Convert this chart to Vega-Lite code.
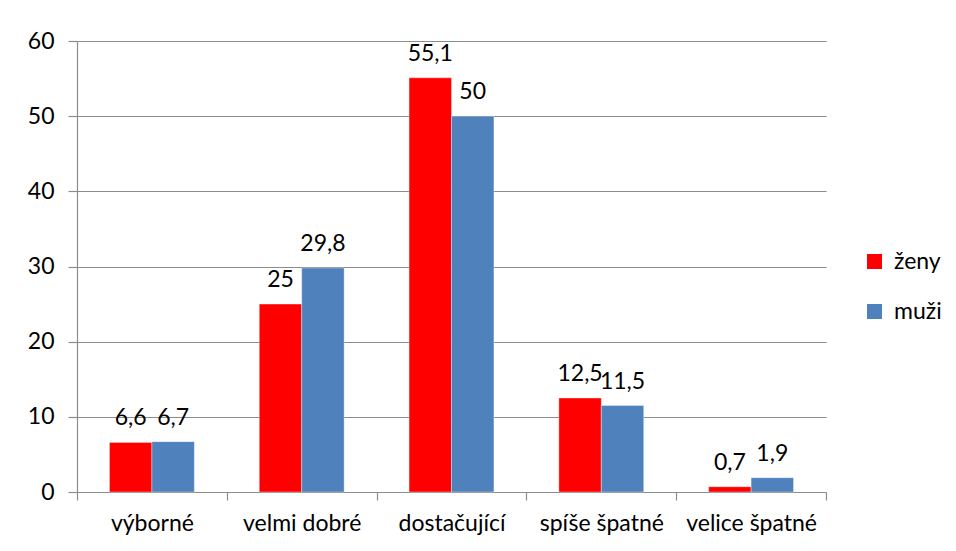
{
  "$schema": "https://vega.github.io/schema/vega-lite/v6.json",
  "autosize": "none",
  "width": 749,
  "height": 451,
  "padding": {"left": 77, "top": 41, "right": 130, "bottom": 59},
  "background": "white",
  "data": {
    "values": [
      {"kategorie": "výborné", "pohlavi": "ženy", "hodnota": 6.6, "label": "6,6"},
      {"kategorie": "výborné", "pohlavi": "muži", "hodnota": 6.7, "label": "6,7"},
      {"kategorie": "velmi dobré", "pohlavi": "ženy", "hodnota": 25, "label": "25"},
      {"kategorie": "velmi dobré", "pohlavi": "muži", "hodnota": 29.8, "label": "29,8"},
      {"kategorie": "dostačující", "pohlavi": "ženy", "hodnota": 55.1, "label": "55,1"},
      {"kategorie": "dostačující", "pohlavi": "muži", "hodnota": 50, "label": "50"},
      {"kategorie": "spíše špatné", "pohlavi": "ženy", "hodnota": 12.5, "label": "12,5"},
      {"kategorie": "spíše špatné", "pohlavi": "muži", "hodnota": 11.5, "label": "11,5"},
      {"kategorie": "velice špatné", "pohlavi": "ženy", "hodnota": 0.7, "label": "0,7"},
      {"kategorie": "velice špatné", "pohlavi": "muži", "hodnota": 1.9, "label": "1,9"}
    ]
  },
  "encoding": {
    "x": {
      "field": "kategorie",
      "type": "nominal",
      "sort": ["výborné", "velmi dobré", "dostačující", "spíše špatné", "velice špatné"],
      "scale": {"paddingInner": 0, "paddingOuter": 0},
      "axis": {
        "title": null,
        "labelAngle": 0,
        "labelFontSize": 23,
        "labelPadding": 12,
        "labelColor": "#000000",
        "tickSize": 8,
        "tickBand": "extent",
        "domainColor": "#8c8c8c",
        "tickColor": "#8c8c8c",
        "grid": false
      }
    },
    "xOffset": {
      "field": "pohlavi",
      "type": "nominal",
      "sort": ["ženy", "muži"],
      "scale": {"paddingInner": 0, "paddingOuter": 0.765}
    },
    "y": {
      "field": "hodnota",
      "type": "quantitative",
      "scale": {"domain": [0, 60], "nice": false},
      "axis": {
        "title": null,
        "values": [0, 10, 20, 30, 40, 50, 60],
        "labelFontSize": 23,
        "labelColor": "#000000",
        "labelPadding": 14,
        "tickSize": 9,
        "domainColor": "#8c8c8c",
        "tickColor": "#8c8c8c",
        "gridColor": "#8c8c8c",
        "grid": true
      }
    }
  },
  "layer": [
    {
      "mark": {"type": "bar", "stroke": "#ffffff", "strokeWidth": 0.6, "strokeOpacity": 0.6},
      "encoding": {
        "color": {
          "field": "pohlavi",
          "type": "nominal",
          "sort": ["ženy", "muži"],
          "scale": {"domain": ["ženy", "muži"], "range": ["#ff0000", "#4f81bd"]},
          "legend": {
            "title": null,
            "orient": "none",
            "legendX": 786,
            "legendY": 209,
            "symbolType": "square",
            "symbolSize": 225,
            "symbolStrokeWidth": 0,
            "labelFontSize": 23,
            "labelColor": "#000000",
            "labelOffset": 8,
            "rowPadding": 26
          }
        }
      }
    },
    {
      "mark": {"type": "text", "baseline": "alphabetic", "dy": -17, "fontSize": 23, "color": "#000000"},
      "encoding": {"text": {"field": "label"}}
    }
  ],
  "config": {
    "font": "Lato",
    "view": {"stroke": null},
    "axis": {"labelFont": "Lato", "domainWidth": 1.2, "tickWidth": 1.2, "gridWidth": 1.2},
    "legend": {"labelFont": "Lato"},
    "text": {"font": "Lato"}
  }
}
